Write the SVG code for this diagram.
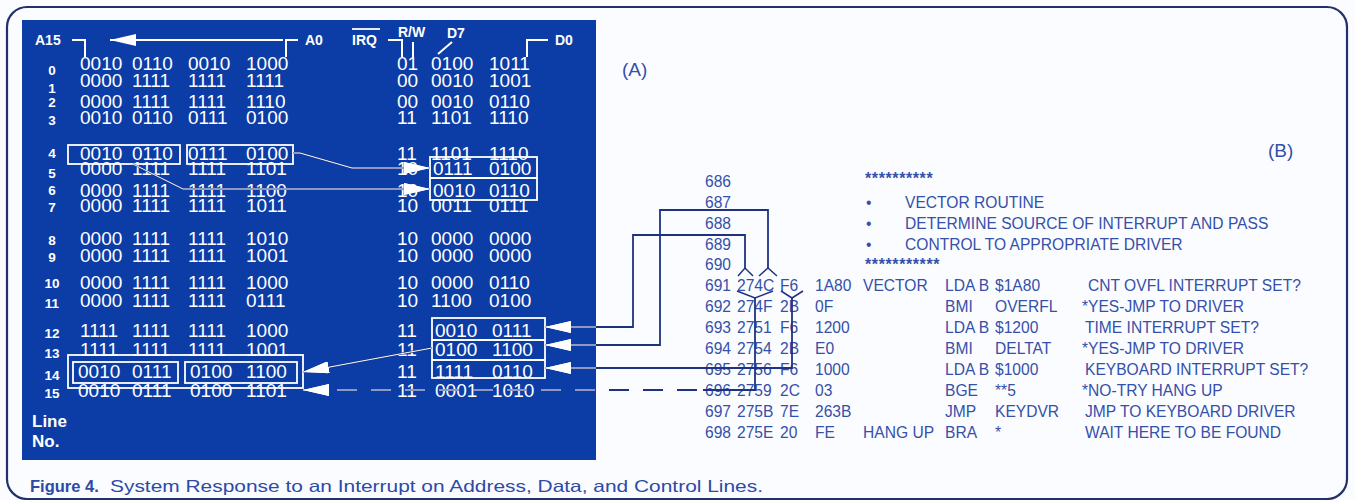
<svg xmlns="http://www.w3.org/2000/svg" xmlns:xlink="http://www.w3.org/1999/xlink" width="1355" height="500" viewBox="0 0 1355 500">
<style>
.bits{font-family:"Liberation Sans",Arial,sans-serif;font-size:19px;fill:#fff}
.lab{font-family:"Liberation Sans",Arial,sans-serif;font-weight:bold;fill:#fff}
.ln{font-size:13.5px;text-anchor:middle}
.lst{font-family:"Liberation Sans",Arial,sans-serif;font-size:15.6px;fill:#3550a8}
.stars{font-size:16px;font-weight:bold;letter-spacing:0.6px}
.wbox{fill:none;stroke:#fff;stroke-width:1.8}
.wline{fill:none;stroke:#fff;stroke-width:2}
.navy{fill:none;stroke:#1f3280;stroke-width:1.8}
.white{fill:none;stroke:#fff}
.chev{fill:none;stroke:#1f3280;stroke-width:1.5}
#conn-paths path{fill:none}
</style>
<defs>
<clipPath id="panelClip"><rect x="22" y="20" width="574" height="440"/></clipPath>
<marker id="ah" markerUnits="userSpaceOnUse" viewBox="0 0 26 12" refX="26" refY="6" markerWidth="26" markerHeight="12" orient="auto">
<path d="M0,0 L26,6 L0,12 z" fill="#fff" stroke="none"/>
</marker>
</defs>
<rect x="0" y="0" width="1355" height="500" fill="#fbfcff"/>
<rect id="frame" x="7" y="7" width="1340" height="492" rx="20" fill="none" stroke="#24306c" stroke-width="2.2"/>
<g id="panel">
<rect x="22" y="20" width="574" height="440" fill="#0c3da6"/>
</g>
<g id="header">
<text class="lab" x="35" y="45" font-size="14">A15</text>
<text class="lab" x="305" y="45" font-size="14">A0</text>
<text class="lab" x="352" y="45" font-size="14">IRQ</text>
<line x1="352" y1="29" x2="380" y2="29" stroke="#fff" stroke-width="1.8"/>
<text class="lab" x="398" y="37" font-size="14">R/W</text>
<text class="lab" x="447" y="38" font-size="14">D7</text>
<text class="lab" x="555" y="45" font-size="14">D0</text>
<path class="wline" d="M72,40 H85 V57"/>
<path class="wline" d="M286,57 V40 H298"/>
<path class="wline" d="M388,40 H402 V57"/>
<path class="wline" d="M413,42 V57"/>
<path class="wline" d="M452,42 L438,54"/>
<path class="wline" d="M527,57 V40 H548"/>
<path class="wline" d="M283,40 H110" stroke-width="2.5" marker-end="url(#ah)"/>
</g>
<g id="line-numbers" class="lab ln">
<text x="52" y="75">0</text><text x="52" y="93">1</text><text x="52" y="107">2</text><text x="52" y="125">3</text>
<text x="52" y="158">4</text><text x="52" y="178">5</text><text x="52" y="195">6</text><text x="52" y="212">7</text>
<text x="52" y="245">8</text><text x="52" y="262">9</text><text x="52" y="288">10</text><text x="52" y="308">11</text>
<text x="52" y="338">12</text><text x="52" y="358">13</text><text x="52" y="380">14</text><text x="52" y="398">15</text>
<text x="32" y="427" font-size="17" text-anchor="start">Line</text>
<text x="32" y="447" font-size="17" text-anchor="start">No.</text>
</g>
<g id="bit-rows" class="bits">
<text y="70"><tspan x="80">0010</tspan><tspan x="132">0110</tspan><tspan x="188">0010</tspan><tspan x="246">1000</tspan><tspan x="397">01</tspan><tspan x="431">0100</tspan><tspan x="489">1011</tspan></text>
<text y="87"><tspan x="80">0000</tspan><tspan x="132">1111</tspan><tspan x="188">1111</tspan><tspan x="246">1111</tspan><tspan x="397">00</tspan><tspan x="431">0010</tspan><tspan x="489">1001</tspan></text>
<text y="108"><tspan x="80">0000</tspan><tspan x="132">1111</tspan><tspan x="188">1111</tspan><tspan x="246">1110</tspan><tspan x="397">00</tspan><tspan x="431">0010</tspan><tspan x="489">0110</tspan></text>
<text y="124"><tspan x="80">0010</tspan><tspan x="132">0110</tspan><tspan x="188">0111</tspan><tspan x="246">0100</tspan><tspan x="397">11</tspan><tspan x="431">1101</tspan><tspan x="489">1110</tspan></text>
<text y="160"><tspan x="80">0010</tspan><tspan x="132">0110</tspan><tspan x="188">0111</tspan><tspan x="246">0100</tspan><tspan x="397">11</tspan><tspan x="431">1101</tspan><tspan x="489">1110</tspan></text>
<text y="175"><tspan x="80">0000</tspan><tspan x="132">1111</tspan><tspan x="188">1111</tspan><tspan x="246">1101</tspan><tspan x="397">10</tspan><tspan x="433">0111</tspan><tspan x="489">0100</tspan></text>
<text y="197"><tspan x="80">0000</tspan><tspan x="132">1111</tspan><tspan x="188">1111</tspan><tspan x="246">1100</tspan><tspan x="397">10</tspan><tspan x="433">0010</tspan><tspan x="489">0110</tspan></text>
<text y="212"><tspan x="80">0000</tspan><tspan x="132">1111</tspan><tspan x="188">1111</tspan><tspan x="246">1011</tspan><tspan x="397">10</tspan><tspan x="431">0011</tspan><tspan x="489">0111</tspan></text>
<text y="245"><tspan x="80">0000</tspan><tspan x="132">1111</tspan><tspan x="188">1111</tspan><tspan x="246">1010</tspan><tspan x="397">10</tspan><tspan x="431">0000</tspan><tspan x="489">0000</tspan></text>
<text y="262"><tspan x="80">0000</tspan><tspan x="132">1111</tspan><tspan x="188">1111</tspan><tspan x="246">1001</tspan><tspan x="397">10</tspan><tspan x="431">0000</tspan><tspan x="489">0000</tspan></text>
<text y="289"><tspan x="80">0000</tspan><tspan x="132">1111</tspan><tspan x="188">1111</tspan><tspan x="246">1000</tspan><tspan x="397">10</tspan><tspan x="431">0000</tspan><tspan x="489">0110</tspan></text>
<text y="307"><tspan x="80">0000</tspan><tspan x="132">1111</tspan><tspan x="188">1111</tspan><tspan x="246">0111</tspan><tspan x="397">10</tspan><tspan x="431">1100</tspan><tspan x="489">0100</tspan></text>
<text y="337"><tspan x="80">1111</tspan><tspan x="132">1111</tspan><tspan x="188">1111</tspan><tspan x="246">1000</tspan><tspan x="397">11</tspan><tspan x="435">0010</tspan><tspan x="492">0111</tspan></text>
<text y="356"><tspan x="80">1111</tspan><tspan x="132">1111</tspan><tspan x="188">1111</tspan><tspan x="246">1001</tspan><tspan x="397">11</tspan><tspan x="435">0100</tspan><tspan x="492">1100</tspan></text>
<text y="378"><tspan x="78">0010</tspan><tspan x="132">0111</tspan><tspan x="190">0100</tspan><tspan x="246">1100</tspan><tspan x="397">11</tspan><tspan x="435">1111</tspan><tspan x="492">0110</tspan></text>
<text y="397"><tspan x="78">0010</tspan><tspan x="132">0111</tspan><tspan x="190">0100</tspan><tspan x="246">1101</tspan><tspan x="397">11</tspan><tspan x="435">0001</tspan><tspan x="492">1010</tspan></text>
</g>
<g id="box-row4-high"><rect class="wbox" x="68" y="145" width="112" height="19"/></g>
<g id="box-row4-low"><rect class="wbox" x="187" y="145" width="106" height="19"/></g>
<g id="box-data-5-6"><rect class="wbox" x="430" y="157" width="107" height="43"/><line class="wbox" x1="430" y1="178" x2="537" y2="178"/></g>
<g id="box-row14-high"><rect class="wbox" x="73" y="362" width="105" height="21"/></g>
<g id="box-row14-low"><rect class="wbox" x="185" y="362" width="112" height="21"/></g>
<g id="bracket-row14"><rect class="wbox" x="68" y="355" width="235" height="33"/></g>
<g id="box-data-12-14"><rect class="wbox" x="432" y="318" width="113" height="60"/><line class="wbox" x1="432" y1="340" x2="545" y2="340"/><line class="wbox" x1="432" y1="360" x2="545" y2="360"/></g>
<g id="listing" class="lst">
<text class="stars" x="865" y="184">**********</text>
<text x="705" y="187">686</text>
<text x="705" y="208">687</text><text x="866" y="208">•</text><text x="905" y="208">VECTOR ROUTINE</text>
<text x="705" y="229">688</text><text x="866" y="229">•</text><text x="905" y="229">DETERMINE SOURCE OF INTERRUPT AND PASS</text>
<text x="705" y="250">689</text><text x="866" y="250">•</text><text x="905" y="250">CONTROL TO APPROPRIATE DRIVER</text>
<text x="705" y="270">690</text><text class="stars" x="865" y="270">***********</text>
<text y="291"><tspan x="705">691</tspan><tspan x="737">274C</tspan><tspan x="780">F6</tspan><tspan x="815">1A80</tspan><tspan x="863">VECTOR</tspan><tspan x="945">LDA B</tspan><tspan x="995">$1A80</tspan><tspan x="1088">CNT OVFL INTERRUPT SET?</tspan></text>
<text y="312"><tspan x="705">692</tspan><tspan x="737">274F</tspan><tspan x="780">2B</tspan><tspan x="815">0F</tspan><tspan x="945">BMI</tspan><tspan x="995">OVERFL</tspan><tspan x="1082">*YES-JMP TO DRIVER</tspan></text>
<text y="333"><tspan x="705">693</tspan><tspan x="737">2751</tspan><tspan x="780">F6</tspan><tspan x="815">1200</tspan><tspan x="945">LDA B</tspan><tspan x="995">$1200</tspan><tspan x="1085">TIME INTERRUPT SET?</tspan></text>
<text y="354"><tspan x="705">694</tspan><tspan x="737">2754</tspan><tspan x="780">2B</tspan><tspan x="815">E0</tspan><tspan x="945">BMI</tspan><tspan x="995">DELTAT</tspan><tspan x="1082">*YES-JMP TO DRIVER</tspan></text>
<text y="375"><tspan x="705">695</tspan><tspan x="737">2756</tspan><tspan x="780">F6</tspan><tspan x="815">1000</tspan><tspan x="945">LDA B</tspan><tspan x="995">$1000</tspan><tspan x="1085">KEYBOARD INTERRUPT SET?</tspan></text>
<text y="396"><tspan x="705">696</tspan><tspan x="737">2759</tspan><tspan x="780">2C</tspan><tspan x="815">03</tspan><tspan x="945">BGE</tspan><tspan x="995">**5</tspan><tspan x="1082">*NO-TRY HANG UP</tspan></text>
<text y="417"><tspan x="705">697</tspan><tspan x="737">275B</tspan><tspan x="780">7E</tspan><tspan x="815">263B</tspan><tspan x="945">JMP</tspan><tspan x="995">KEYDVR</tspan><tspan x="1085">JMP TO KEYBOARD DRIVER</tspan></text>
<text y="438"><tspan x="705">698</tspan><tspan x="737">275E</tspan><tspan x="780">20</tspan><tspan x="815">FE</tspan><tspan x="863">HANG UP</tspan><tspan x="945">BRA</tspan><tspan x="995">*</tspan><tspan x="1085">WAIT HERE TO BE FOUND</tspan></text>
</g>
<g id="labels" font-family="Liberation Sans, Arial, sans-serif" font-size="19" fill="#3550a8">
<text x="622" y="76">(A)</text>
<text x="1268" y="157">(B)</text>
</g>
<g id="caption" font-family="Liberation Sans, Arial, sans-serif" font-size="16.5" fill="#2d4aa6">
<text x="30" y="492" font-weight="bold">Figure 4.</text>
<text x="110" y="492" textLength="653" lengthAdjust="spacingAndGlyphs">System Response to an Interrupt on Address, Data,  and Control Lines.</text>
</g>
<g id="connectors">
<g class="navy">
<g id="conn-paths">
<path d="M293,153 H300 L352,168 H430" marker-end="url(#ah)"/>
<path d="M133,164 L183,189 H430" marker-end="url(#ah)"/>
<path d="M432,348 L303,372" marker-end="url(#ah)"/>
<path d="M745,268 V235 H633 V327 H545" marker-end="url(#ah)"/>
<path d="M768,268 V210 H660 V345 H545" marker-end="url(#ah)"/>
<path d="M792,298 V368 H545" marker-end="url(#ah)"/>
<path d="M755,298 V390 H703"/>
<path d="M697,390 H303" stroke-dasharray="20 14" marker-end="url(#ah)"/>
</g>
</g>
<use xlink:href="#conn-paths" class="white" clip-path="url(#panelClip)"/>
<g class="chev">
<path d="M738,276 L745,268 L753,276"/>
<path d="M759,276 L768,268 L777,276"/>
<path d="M737,291 L755,298 L773,291"/>
<path d="M781,291 L792,298 L803,291"/>
</g>
</g>
</svg>
